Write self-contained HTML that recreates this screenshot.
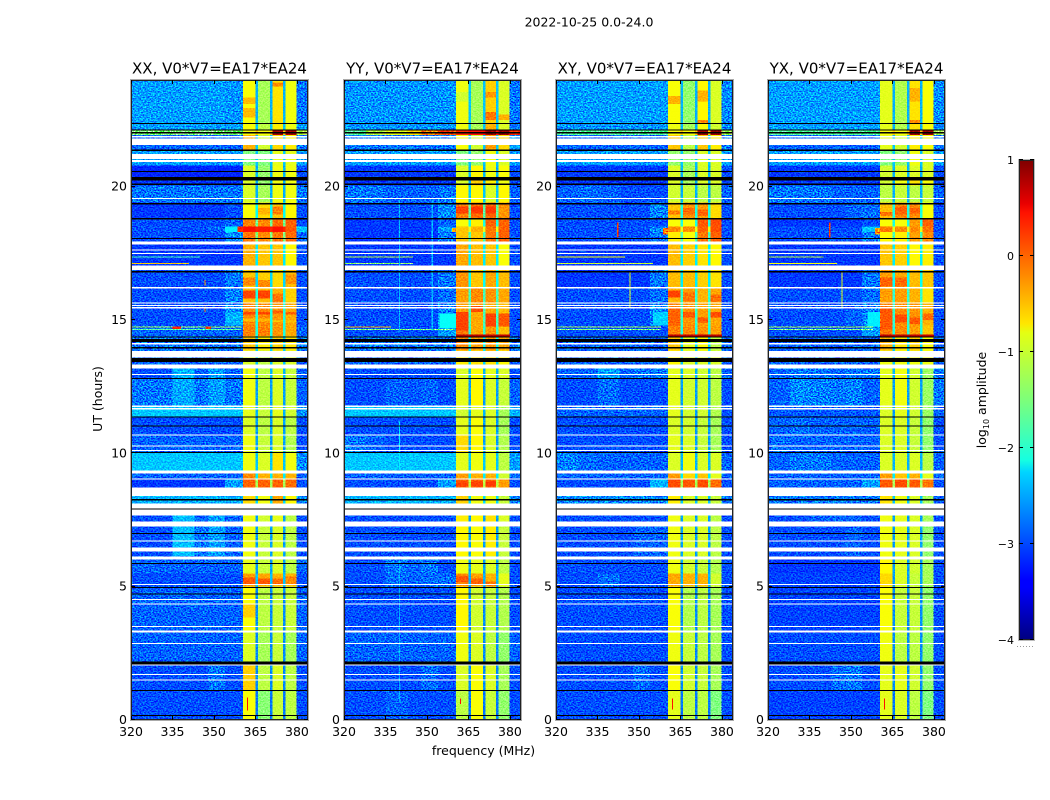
<!DOCTYPE html>
<html>
<head>
<meta charset="utf-8">
<title>2022-10-25 0.0-24.0</title>
<style>
html,body{margin:0;padding:0;background:#fff;width:1050px;height:800px;overflow:hidden}
svg{display:block}
text{font-family:"DejaVu Sans","Liberation Sans",sans-serif;fill:#000}
.tick{font-size:12.5px}
.cbtick{font-size:11px}
.axt{font-size:15px}
</style>
</head>
<body>
<svg id="figure" xmlns="http://www.w3.org/2000/svg" width="1050" height="800" viewBox="0 0 1050 800">
<defs>
<filter id="speckle" x="0" y="0" width="100%" height="100%" color-interpolation-filters="sRGB">
<feTurbulence type="fractalNoise" baseFrequency="0.6 0.8" numOctaves="1" seed="7"/>
<feColorMatrix type="matrix" values="0 0 0 0 0  1 0 0 0 0  0 0 0 0 0  0 0 0 0 1"/>
<feColorMatrix type="matrix" values="0 1 0 0 0  0 1 0 0 0  0 1 0 0 0  0 0 0 0 1"/>
<feComponentTransfer><feFuncR type="linear" slope="2.8" intercept="-0.9"/><feFuncG type="linear" slope="2.8" intercept="-0.9"/><feFuncB type="linear" slope="2.8" intercept="-0.9"/></feComponentTransfer>
</filter>
<linearGradient id="jet-gradient" x1="0" y1="1" x2="0" y2="0">
<stop offset="0" stop-color="#00007f"/><stop offset="0.11" stop-color="#0000ff"/><stop offset="0.125" stop-color="#0000ff"/>
<stop offset="0.35" stop-color="#00d5ff"/><stop offset="0.375" stop-color="#16ffe1"/><stop offset="0.5" stop-color="#7dff7a"/>
<stop offset="0.64" stop-color="#e4ff13"/><stop offset="0.66" stop-color="#ffe600"/><stop offset="0.89" stop-color="#ff1200"/>
<stop offset="0.91" stop-color="#e80000"/><stop offset="1" stop-color="#7f0000"/>
</linearGradient>
</defs>
<text x="589" y="26.5" text-anchor="middle" style="font-size:12.5px">2022-10-25 0.0-24.0</text>
<text x="483.5" y="755" text-anchor="middle" style="font-size:12.5px">frequency (MHz)</text>
<text transform="translate(102,399) rotate(-90)" text-anchor="middle" style="font-size:12.5px">UT (hours)</text>
<g id="panels"></g>
<g id="colorbar"></g>
</svg>
<script>
// ---- data (hours UT, MHz, log10 amplitude) ----
const panelTitles = ['XX, V0*V7=EA17*EA24','YY, V0*V7=EA17*EA24','XY, V0*V7=EA17*EA24','YX, V0*V7=EA17*EA24'];
const xTicks = [320,335,350,365,380];
const yTicks = [0,5,10,15,20];
const cbTicks = [1,0,-1,-2,-3,-4];
const freqEdges = [320,328,335,343,348,354,360.5,365,366,370.3,371.1,374.9,375.8,379.8,384];
const rowEdges = [24,22.35,22.1,21.93,21.37,20.8,20.3,20.05,19.4,18.8,18.5,18.3,17.85,17.05,16.2,15.65,14.8,14.4,13.85,13.3,12.8,11.8,11.35,10.7,10.05,9.3,9.05,8.7,7.9,7.25,6.15,5.5,5.0,3.35,2.2,1.1,0];
// columns: 320-328, 328-335, 335-343, 343-348, 348-354, 354-360.5, sub1, sub2, sub3, sub4, notch, 380-384
const xxValues = [
[-2.6,-2.6,-2.6,-2.6,-2.6,-2.65,-.9,-1.3,-.75,-.95,-2.5,-2.8],
[-2.6,-2.6,-2.6,-2.6,-2.6,-2.6,-.9,-1.2,-.8,-.95,-2.4,-2.6],
[-1.5,-1.5,-1.5,-1.5,-1.5,-1.5,-.9,-.9,.8,.8,-.6,-1.2],
[-2.9,-2.9,-2.9,-2.9,-2.9,-2.9,-.5,-1.1,-.7,-.8,-2.4,-2.8],
[-2.6,-2.6,-2.6,-2.6,-2.6,-2.6,-1.5,-1.5,-1,-1,-2.4,-2.6],
[-3.2,-3.2,-3.2,-3.2,-3.2,-3.2,-1.05,-1.4,-.95,-.95,-2.5,-3],
[-3.1,-3.1,-3.1,-3.1,-3.1,-3.1,-1.05,-1.4,-.95,-.95,-2.5,-3],
[-2.8,-2.8,-2.8,-2.8,-2.8,-2.8,-1.05,-1.3,-.95,-.95,-2.5,-2.8],
[-3.1,-3.1,-3.1,-3.1,-3.1,-3,-.9,-.7,-.6,-.85,-2.1,-3],
[-3,-3,-3,-3,-3,-2.9,-.25,-.3,-.15,-.1,-1.6,-3],
[-3,-3,-3,-3,-2.9,-2.2,.3,.25,.3,-.05,.2,-2.4],
[-3,-3,-3,-3,-3,-2.7,-.2,-.3,-.2,-.15,-1.5,-2.9],
[-3.1,-3.1,-3.1,-3.1,-3.1,-3.1,-.5,-.6,-.6,-.85,-2.2,-3],
[-3,-3,-3,-3,-3,-2.8,-.6,-.65,-.7,-.55,-2.3,-3],
[-3,-3,-3,-3,-3,-2.75,-.55,-.55,-.5,-.65,-2,-3],
[-3,-3,-3,-3,-3,-2.75,-.3,-.3,-.35,-.45,-2,-3],
[-2.9,-2.9,-2.9,-2.9,-2.9,-2.9,-.25,-.25,-.35,-.45,-2,-2.9],
[-2.8,-2.8,-2.8,-2.8,-2.8,-2.8,-.6,-.8,-.65,-.75,-2.3,-2.8],
[-2.9,-2.9,-2.9,-2.9,-2.9,-2.9,-1.05,-1.2,-1.05,-1.05,-2.4,-2.9],
[-3,-3,-2.5,-2.9,-2.6,-2.9,-.95,-1.2,-1.05,-1.15,-2.5,-2.9],
[-2.8,-2.8,-2.55,-2.8,-2.6,-2.8,-.95,-1.2,-1.05,-1.15,-2.6,-2.9],
[-2.4,-2.4,-2.4,-2.4,-2.4,-2.4,-1,-1.15,-1,-1.1,-2.5,-2.7],
[-3,-3,-3,-3,-3,-3,-1.05,-1.2,-1.05,-1.2,-2.6,-3],
[-2.9,-2.9,-2.9,-2.9,-2.9,-2.9,-.95,-1.15,-1.05,-1.25,-2.6,-3],
[-2.4,-2.4,-2.4,-2.4,-2.4,-2.4,-.95,-1.05,-.75,-.95,-2.4,-2.7],
[-2.9,-2.9,-2.9,-2.9,-2.9,-2.9,-.3,-.5,-.5,-.5,-2.2,-2.9],
[-3.1,-3.1,-3.1,-3.1,-3.1,-2.6,-.1,-.1,-.1,-.15,-1.3,-3],
[-2.5,-2.5,-2.5,-2.5,-2.5,-2.5,-.7,-.95,-.45,-.85,-2.3,-2.7],
[-3,-3,-2.45,-2.9,-2.6,-2.9,-.95,-1.1,-1,-1.2,-2.6,-3],
[-3,-3,-2.45,-2.8,-2.6,-2.9,-.95,-1.15,-1.05,-1.2,-2.6,-3],
[-2.9,-2.9,-2.9,-2.9,-2.9,-2.9,-1,-1.15,-1.05,-1.2,-2.6,-2.9],
[-3,-3,-3,-3,-3,-3,-.4,-.45,-.5,-.5,-2.4,-3],
[-2.9,-2.9,-2.9,-2.9,-2.9,-2.9,-.9,-1.2,-1.15,-1.15,-2.7,-2.9],
[-2.9,-2.9,-2.9,-2.9,-2.9,-2.9,-1.05,-1.3,-1.15,-1.3,-2.7,-2.9],
[-3,-3,-3,-3,-2.8,-3,-.65,-1.2,-1.05,-1.2,-2.7,-3],
[-3,-3,-3,-3,-3,-3,-.9,-1.45,-1.15,-1.2,-2.8,-3]
];
const yyValues = [
[-2.65,-2.65,-2.65,-2.65,-2.65,-2.65,-.95,-1.3,-.65,-1.05,-2.4,-2.8],
[-2.65,-2.65,-2.65,-2.65,-2.65,-2.65,-.95,-1.3,-.5,-1.05,-2.4,-2.8],
[-1.7,-1.2,-1,-.7,-.3,0,.2,.3,.85,.85,.3,.2],
[-2.8,-2.8,-2.8,-2.8,-2.8,-2.8,-.9,-1.1,-.4,-.7,-2.4,-2.6],
[-2.6,-2.6,-2.6,-2.6,-2.6,-2.6,-1.5,-1.4,-.95,-1.05,-2.4,-2.6],
[-3.1,-3.1,-3.1,-3.1,-3.1,-3.1,-1.05,-.85,-.95,-.9,-2.5,-3],
[-3.1,-3.1,-3.1,-3.1,-3.1,-3.1,-1.05,-.65,-.8,-.95,-2.5,-3],
[-2.8,-2.8,-2.9,-2.9,-2.9,-2.8,-.85,-.85,-1.05,-.85,-2.4,-2.9],
[-3,-3,-3,-3,-3,-2.7,-.25,-.15,-.1,-.35,-1.7,-3],
[-3.1,-3.1,-3.1,-3.1,-3.1,-2.9,-.9,-.8,-.1,-.1,-2,-3],
[-3.1,-3.1,-3.1,-3.1,-3.1,-2.6,-.6,-.5,-.2,-.1,-1,-3],
[-3.1,-3.1,-3.1,-3.1,-3.1,-2.8,-.6,-.6,-.2,-.1,-1.8,-3],
[-3.1,-3.1,-3.1,-3.1,-3.1,-3.1,-.45,-.55,-.6,-.9,-2.2,-3],
[-3,-3,-3,-3,-3,-2.8,-.35,-.6,-.45,-.55,-2.1,-3],
[-3,-3,-3,-3,-3,-2.85,-.4,-.3,-.35,-.45,-1.8,-3],
[-3,-3,-3,-3,-3,-2.75,-.4,-.45,-.45,-.55,-1.8,-3],
[-3,-3,-3,-3,-3,-2.6,-.2,-.45,-.35,-.55,-1.9,-3],
[-2.8,-2.8,-2.8,-2.8,-2.8,-2.8,-.3,-.4,-.35,-.45,-2.1,-2.8],
[-2.9,-2.9,-2.9,-2.9,-2.9,-2.9,-.8,-.75,-.75,-.85,-2.3,-2.9],
[-3,-3,-3,-3,-3,-3,-1.05,-.9,-1,-1.05,-2.5,-3],
[-3,-3,-2.9,-2.95,-2.9,-3,-1,-.85,-1.05,-1.15,-2.6,-2.9],
[-2.4,-2.4,-2.4,-2.4,-2.4,-2.4,-1.1,-1,-1.05,-1.3,-2.5,-2.5],
[-3,-3,-3,-3,-3,-3,-1,-.9,-1.05,-1.3,-2.6,-3],
[-2.8,-2.9,-3,-3,-3,-3,-.7,-.85,-1.05,-1.25,-2.6,-3],
[-2.4,-2.4,-2.4,-2.4,-2.4,-2.4,-1,-.95,-1,-1.2,-2.4,-2.6],
[-2.9,-2.9,-2.9,-2.9,-2.9,-2.9,-.4,-.5,-.5,-1.1,-2.2,-2.9],
[-3,-3,-3,-3,-3,-2.6,-.1,-.1,-.1,-.4,-1.2,-3],
[-2.5,-2.5,-2.5,-2.5,-2.5,-2.5,-.65,-.95,-.95,-1.15,-2.3,-2.7],
[-3,-3,-3,-3,-3,-3,-.8,-.85,-.75,-1.05,-2.6,-3],
[-3,-3,-3,-3,-3,-3,-.85,-.9,-.8,-1.15,-2.6,-3],
[-3,-3,-2.8,-2.9,-2.8,-3,-.95,-1,-1.05,-1.2,-2.6,-3],
[-3,-3,-2.85,-2.9,-2.85,-2.85,-.3,-.4,-.5,-1,-2.5,-3],
[-3,-3,-3,-3,-3,-3,-.85,-1.1,-1.15,-1.25,-2.7,-3],
[-2.9,-2.9,-2.9,-2.9,-2.9,-2.9,-.95,-1.05,-1.2,-1.4,-2.7,-2.9],
[-3,-3,-3,-3,-2.85,-3,-1.05,-.9,-1.05,-1.3,-2.7,-3],
[-3,-3,-2.9,-3,-3,-3,-1.2,-.9,-1.15,-1.4,-2.8,-3]
];
const xyValues = [
[-2.6,-2.6,-2.6,-2.6,-2.6,-2.6,-.9,-1.4,-.85,-1.05,-2.5,-2.7],
[-2.65,-2.65,-2.65,-2.65,-2.65,-2.65,-.95,-1.3,-.9,-1.1,-2.5,-2.7],
[-1.7,-1.7,-1.7,-1.7,-1.7,-1.7,-.9,-.9,.85,.85,-.6,-1.3],
[-2.9,-2.9,-2.9,-2.9,-2.9,-2.9,-.6,-1.2,-.6,-.8,-2.4,-2.8],
[-2.6,-2.6,-2.6,-2.6,-2.6,-2.6,-1.4,-1.4,-1.05,-1.05,-2.4,-2.6],
[-3.1,-3.1,-3.1,-3.1,-3.1,-3.1,-1.05,-1.3,-1.05,-1.05,-2.5,-3],
[-3.1,-3.1,-3.1,-3.1,-3.1,-3.1,-1.05,-1.3,-1.05,-1.05,-2.5,-3],
[-2.9,-2.85,-2.9,-3,-3,-3,-1.1,-1.15,-1.2,-1.2,-2.5,-2.9],
[-3,-3,-3,-3,-3,-2.75,-.6,-.35,-.4,-.7,-2,-3],
[-3,-3,-3,-3,-3,-3,-.9,-.9,-.05,0,-2,-3],
[-3,-3,-3,-3,-3,-2.7,-.3,-.3,-.1,0,-1,-3],
[-3,-3,-3,-3,-3,-2.8,-.8,-.9,-.2,-.1,-1.8,-3],
[-3.1,-3.1,-3.1,-3.1,-3.1,-3.1,-.55,-.65,-.75,-.85,-2.2,-3],
[-3.1,-3.1,-3.1,-3.1,-3.1,-2.8,-.55,-.55,-.65,-.75,-2.2,-3],
[-3,-3,-3,-3,-3,-2.85,-.5,-.4,-.5,-.45,-1.9,-3],
[-3,-3,-3,-3,-3,-2.75,-.3,-.35,-.4,-.45,-1.9,-3],
[-3,-3,-3,-3,-3,-3,-.25,-.3,-.35,-.4,-2,-3],
[-2.9,-2.9,-2.9,-2.9,-2.9,-2.9,-.6,-1,-.85,-1.2,-2.3,-2.9],
[-2.9,-2.9,-2.9,-2.9,-2.9,-2.9,-.85,-1.05,-1.05,-1.05,-2.4,-2.9],
[-2.9,-2.9,-2.6,-2.9,-2.8,-2.8,-1,-1.05,-1.1,-1.2,-2.5,-2.9],
[-3,-3,-2.85,-3,-3,-3,-1,-1.1,-1.1,-1.2,-2.6,-3],
[-2.9,-2.9,-2.9,-2.9,-2.9,-2.9,-1,-1.1,-1.1,-1.25,-2.6,-3],
[-3,-3,-3,-3,-3,-3,-1.05,-1.1,-1.15,-1.3,-2.6,-3],
[-3,-3,-3,-3,-3,-3,-1,-1.05,-1.15,-1.3,-2.6,-3],
[-2.75,-2.85,-2.9,-2.9,-2.9,-2.9,-1.05,-.95,-1.05,-1.05,-2.5,-2.9],
[-2.9,-2.9,-2.9,-2.9,-2.9,-2.9,-.4,-.7,-.6,-1,-2.2,-2.9],
[-3,-3,-3,-3,-3,-2.5,0,-.05,0,-.15,-1.3,-3],
[-2.7,-2.7,-2.7,-2.7,-2.7,-2.7,-.8,-1.05,-1.05,-1.15,-2.4,-2.8],
[-3,-3,-3,-3,-3,-3,-.95,-1.05,-1.05,-1.2,-2.6,-3],
[-3,-3,-3,-3,-2.9,-2.9,-.95,-1.05,-1.05,-1.2,-2.6,-3],
[-3,-3,-3,-3,-3,-3,-.95,-1.1,-1.15,-1.25,-2.6,-3],
[-3,-3,-2.85,-3,-3,-3,-.45,-.5,-.5,-1.1,-2.5,-3],
[-3,-3,-3,-3,-3,-3,-.9,-1.25,-1.2,-1.3,-2.7,-3],
[-3,-3,-3,-3,-3,-3,-.95,-1.15,-1.2,-1.3,-2.7,-3],
[-3,-3,-3,-3,-2.85,-3,-.9,-1.1,-1.15,-1.3,-2.7,-3],
[-3,-3,-3,-3,-3,-3,-1,-1.2,-1.2,-1.5,-2.8,-3]
];
const yxValues = [
[-2.6,-2.6,-2.6,-2.6,-2.6,-2.6,-1,-1.25,-.75,-.9,-2.5,-2.7],
[-2.6,-2.6,-2.6,-2.6,-2.6,-2.6,-1,-1.25,-.75,-.9,-2.5,-2.7],
[-1.7,-1.7,-1.7,-1.7,-1.7,-1.7,-.9,-.9,.85,.85,-.6,-1.3],
[-2.9,-2.9,-2.9,-2.9,-2.9,-2.9,-1,-1.1,-.8,-.9,-2.4,-2.8],
[-2.6,-2.6,-2.6,-2.6,-2.6,-2.6,-1.5,-1.4,-.95,-1.05,-2.4,-2.6],
[-3.1,-3.1,-3.1,-3.1,-3.1,-3.1,-1.1,-1.05,-1.05,-1.05,-2.5,-3],
[-3.1,-3.1,-3.1,-3.1,-3.1,-3.1,-1.1,-.95,-.75,-.9,-2.5,-3],
[-2.8,-2.8,-2.8,-2.9,-2.9,-2.9,-1.2,-1.15,-1.2,-1.15,-2.5,-2.9],
[-3,-3,-3,-3,-2.9,-2.85,-.55,-.3,-.3,-.9,-2,-3],
[-3.1,-3.1,-3.1,-3.1,-3.1,-3,-.9,-.9,-.4,-.1,-2,-3],
[-3,-3,-3,-3,-3,-2.4,-.2,-.3,-.3,-.2,-1,-3],
[-3,-3,-3,-3,-3,-2.8,-.85,-.8,-.4,-.3,-1.8,-3],
[-3.1,-3.1,-3.1,-3.1,-3.1,-3.1,-.6,-.65,-.85,-.8,-2.2,-3],
[-3.1,-3.1,-3.1,-3.1,-3.1,-2.8,-.4,-.45,-.55,-.6,-2.1,-3],
[-3,-3,-3,-3,-3,-2.85,-.4,-.4,-.5,-.75,-1.9,-3],
[-3,-3,-3,-3,-2.9,-2.75,-.25,-.3,-.35,-.5,-1.9,-3],
[-3,-3,-3,-3,-3,-2.6,-.2,-.3,-.4,-.6,-2,-3],
[-2.9,-2.9,-2.9,-2.9,-2.9,-2.9,-.5,-.75,-.65,-.9,-2.3,-2.9],
[-2.9,-2.9,-2.9,-2.9,-2.9,-2.9,-.95,-.95,-.95,-.95,-2.4,-2.9],
[-2.9,-2.8,-2.8,-2.9,-2.8,-2.8,-1,-.95,-1.1,-1.35,-2.5,-2.8],
[-2.9,-2.7,-2.75,-2.8,-2.75,-2.9,-1,-.95,-1.1,-1.35,-2.6,-2.8],
[-2.95,-2.95,-2.95,-2.95,-2.95,-2.95,-1.05,-1,-1.1,-1.35,-2.6,-2.9],
[-2.9,-2.85,-2.9,-2.9,-2.9,-2.9,-1.05,-1.05,-1.15,-1.4,-2.6,-3],
[-2.85,-2.9,-2.9,-2.9,-2.9,-2.9,-1.05,-1.05,-1.15,-1.4,-2.6,-3],
[-2.9,-2.8,-2.8,-2.9,-2.9,-2.9,-1.05,-1.05,-1.05,-1.2,-2.5,-2.9],
[-2.9,-2.9,-2.9,-2.9,-2.9,-2.9,-.4,-.6,-.5,-1,-2.2,-2.9],
[-2.9,-2.9,-2.9,-2.9,-2.9,-2.6,-.05,0,-.05,-.2,-1.3,-3],
[-2.8,-2.8,-2.8,-2.8,-2.8,-2.8,-.75,-.95,-1.05,-1.3,-2.4,-2.9],
[-3,-3,-2.9,-2.9,-2.9,-3,-.95,-1,-1.05,-1.3,-2.6,-3],
[-3,-3,-3,-3,-2.9,-3,-.95,-1,-1.05,-1.4,-2.6,-3],
[-3.1,-3.1,-3.1,-3.1,-3.1,-3.1,-.85,-1.05,-1.1,-1.3,-2.6,-3],
[-3.05,-3.05,-3.05,-3.05,-3.05,-3.05,-.7,-1.05,-1.15,-1.3,-2.6,-3],
[-3.05,-3.05,-3.05,-3.05,-3.05,-3.05,-.9,-1.15,-1.15,-1.4,-2.7,-3],
[-3,-3,-3,-3,-3,-3,-.95,-1.2,-1.2,-1.4,-2.7,-3],
[-3,-3,-3,-2.85,-2.8,-3,-1,-1,-1.1,-1.4,-2.7,-3],
[-3.05,-3.05,-3.05,-3.05,-3.05,-3.05,-1,-1.05,-1.2,-1.5,-2.8,-3]
];
// localized features: [freq start, freq end, hour top, hour bottom, log10 amplitude]
const xxFeatures = [
[320,360,14.75,14.72,-1.3],[320,360,14.67,14.64,-1.7],[335,338,14.75,14.66,.2],[347,349,14.75,14.66,.1],
[320,345,17.39,17.36,-1.8],[320,341,17.14,17.11,-.6],[346.5,347,16.5,16.3,-.3],[346.5,347,15.5,15.3,-.3],
[354,360.5,15.3,14.8,-2.5],[358.5,360.5,18.5,18.3,.2],[361.9,362.3,.85,.35,.3],
[360.5,365,23.35,23.1,-.55],[360.5,365,22.95,22.6,-.55],[371.1,374.9,23.9,23.75,-.3],
[371.1,374.9,19.25,18.95,-.25],[366,370.3,19.2,18.95,-.5],
[360.5,365,16.6,16.3,-.3],[366,370.3,16.5,16.2,-.3],[375.8,379.8,16.7,16.35,-.35],
[360.5,365,16.1,15.8,.05],[366,370.3,16.1,15.8,.05],[371.1,374.9,16,15.65,-.2],
[360.5,365,15.3,15.2,.05],[366,370.3,15.3,15.2,.05],[371.1,374.9,15.35,15.25,-.1],[375.8,379.8,15.3,15.2,-.1],
[360.5,365,15.05,14.95,-.55],[366,370.3,15.05,14.95,-.5],[371.1,374.9,15,14.9,-.55],[375.8,379.8,15,14.9,-.55],
[360.5,365,4.35,3.85,-.65],[360.5,365,5.35,5.1,-.05],[366,370.3,5.3,5.1,-.05],[371.1,374.9,5.3,5.1,-.15],[375.8,379.8,5.4,5.1,-.3]
];
const yyFeatures = [
[320,337,14.75,14.72,-.5],[320,360,14.67,14.64,-1.5],[320,345,17.39,17.36,-1.2],[320,345,17.14,17.11,-1.4],
[359,360.5,18.45,18.3,-.4],[360.5,380,14.45,14.38,.7],[339.8,340.3,19.5,14.6,-2.45],[351.6,352.1,19.5,14.6,-2.45],
[339.8,340.3,6,.7,-2.5],[339.8,340.3,11.2,9.4,-2.2],[361.9,362.3,.8,.6,.3],[354.6,360.5,15.25,14.7,-2.1],
[371.1,374.9,23.55,23.35,-.35],[371.1,374.9,22.8,22.5,-.2],[375.8,379.8,22.7,22.5,-.5],[360.5,365,23.55,23.2,-1.1],
[360.5,365,15.3,14.6,.05],[366,370.3,15.55,15.3,0],[371.1,374.9,15.25,14.75,.05],[375.8,379.8,15.25,14.75,-.05],
[360.5,365,19.25,19,.05],[366,370.3,19.25,19,.1],[371.1,374.9,19.25,19,.1],
[360.5,365,8.95,8.75,.05],[366,370.3,8.95,8.75,.05],[371.1,374.9,8.95,8.75,.1],
[360.5,365,5.4,5.15,-.05],[366,370.3,5.3,5.1,-.1],[371.1,374.9,5.2,5,-.2]
];
const xyFeatures = [
[320,358,14.75,14.72,-1.3],[320,358,14.67,14.64,-1.5],[320,345,17.39,17.36,-.9],[320,355,17.14,17.11,-1.1],
[358.7,360.5,18.45,18.2,-.2],[360.5,380,14.45,14.38,.7],[342.1,342.6,18.65,18.1,.1],[346.5,347,16.8,15.45,-1],
[361.9,362.3,.8,.4,.3],[355,360.5,15.3,14.8,-2.35],
[360.5,365,23.4,23.1,-.5],[371.1,374.9,23.6,23.2,-.5],[371.1,374.9,22.5,22.35,-.3],
[360.5,365,16.1,15.85,.05],[366,370.3,16.05,15.7,-.2],[375.8,379.8,15.95,15.7,-.15],
[360.5,365,15.45,14.8,-.1],[366,370.3,15.3,15.1,-.05],[371.1,374.9,15.1,14.9,-.05],[375.8,379.8,15.3,15.1,0],
[366,370.3,19.2,18.95,-.15],[371.1,374.9,19.15,18.9,-.1],[360.5,365,19.1,18.95,-.25]
];
const yxFeatures = [
[320,358,14.75,14.72,-1.3],[320,358,14.67,14.64,-1.5],[320,340,17.39,17.36,-1.2],[320,345,17.14,17.11,-.9],
[358.7,360.5,18.45,18.2,-.3],[360.5,380,14.45,14.38,.7],[342.1,342.6,18.65,18.1,.1],[346.5,347,16.8,15.45,-1],
[361.9,362.3,.8,.4,.3],[356,360.5,15.3,14.75,-2.2],
[371.1,374.9,23.7,23.2,-.5],[371.1,374.9,22.5,22.35,-.3],
[360.5,365,15.45,14.65,-.05],[366,370.3,15.2,14.9,0],[371.1,374.9,15.1,14.85,-.05],[375.8,379.8,15.25,15,-.15],
[360.5,365,16.6,16.25,-.1],[366,370.3,16.6,16.25,-.15],
[366,370.3,19.25,18.95,-.1],[371.1,374.9,19.2,19,-.1],[360.5,365,19.05,18.9,-.2]
];
// flagged white gaps [hour top, hour bottom]
const whiteGaps = [[21.9,21.85],[21.8,21.56],[21.22,21.03],[21,20.92],[19.57,19.53],[17.95,17.84],[17.65,17.62],[17.52,17.49],[17.05,16.87],[16.23,16.19],[15.66,15.63],[15.57,15.52],[15.48,15.44],[14.13,14.09],[13.83,13.6],[13.34,13.19],[12.98,12.95],[11.8,11.74],[11.7,11.65],[10.71,10.68],[10.3,10.26],[10.13,10.09],[9.36,9.25],[9.06,9.03],[8.72,8.4],[8.12,7.94],[7.9,7.67],[7.45,7.26],[6.73,6.7],[6.47,6.32],[6.13,6.02],[5.1,5.07],[4.54,4.5],[4.37,4.33],[3.53,3.49],[3.36,3.28],[2.89,2.85],[2.08,2.05],[1.73,1.69],[1.52,1.48]];
// black lines [hour top, hour bottom]
const blackLines = [[22.39,22.35],[22.14,22.11],[22.05,22],[21.39,21.33],[20.58,20.55],[20.36,20.24],[20.11,20.06],[19.38,19.33],[18.82,18.77],[18.07,18.03],[16.83,16.79],[14.39,14.35],[14.28,14.17],[13.98,13.94],[13.58,13.43],[12.83,12.79],[11.38,11.34],[11.05,11.01],[10.05,10.01],[8.28,8.24],[7.94,7.9],[7.01,6.97],[5.89,5.85],[4.99,4.95],[4.75,4.71],[2.2,2.08],[1.13,1.09],[.19,.15]];

// ---- axes ----
const panelLeft = [131,344,556,768];
const panelWidth = 177, panelTop = 80, panelBottom = 720;
const panelValues = [xxValues,yyValues,xyValues,yxValues];
const panelFeatures = [xxFeatures,yyFeatures,xyFeatures,yxFeatures];
const panelKeys = ['xx','yy','xy','yx'];
const xMin = 320, xMax = 384, yMin = 0, yMax = 24, cMin = -4, cMax = 1;
const cbX = 1019, cbW = 15, cbTop = 160, cbBottom = 640;
const NS = 'http://www.w3.org/2000/svg';
function xScale(p, f){ return panelLeft[p] + (f - xMin) / (xMax - xMin) * panelWidth; }
function yScale(h){ return panelBottom - (h - yMin) / (yMax - yMin) * (panelBottom - panelTop); }
function cScale(v){ return cbBottom - (v - cMin) / (cMax - cMin) * (cbBottom - cbTop); }
function clamp01(x){ return Math.max(0, Math.min(1, x)); }
function jet(v){
  const t = clamp01((v - cMin) / (cMax - cMin));
  const r = clamp01(1.5 - Math.abs(4 * t - 3));
  const g = clamp01(1.5 - Math.abs(4 * t - 2));
  const b = clamp01(1.5 - Math.abs(4 * t - 1));
  return 'rgb(' + Math.round(r * 255) + ',' + Math.round(g * 255) + ',' + Math.round(b * 255) + ')';
}
function make(tag, attrs, parent){
  const el = document.createElementNS(NS, tag);
  for (const k in attrs) el.setAttribute(k, attrs[k]);
  parent.appendChild(el);
  return el;
}
// maps a frequency zone (index into freqEdges) to a value column
const zoneColumn = [0,1,2,3,4,5,6,10,7,10,8,10,9,11];
const panelsGroup = document.getElementById('panels');
panelValues.forEach(function(values, p){
  const g = make('g', {}, panelsGroup);
  
  
  const title = make('text', {x: panelLeft[p] + panelWidth / 2, y: 73.5, 'text-anchor': 'middle', class: 'axt'}, g);
  
  
  title.textContent = panelTitles[p];
  const cells = make('g', {'shape-rendering': 'crispEdges'}, g);
  
  
  values.forEach(function(row, r){
    for (let z = 0; z < zoneColumn.length; z++){
      const x0 = xScale(p, freqEdges[z]), x1 = xScale(p, freqEdges[z + 1]);
      const y0 = yScale(rowEdges[r]), y1 = yScale(rowEdges[r + 1]);
      const cell = make('rect', {x: x0, y: y0, width: x1 - x0 + 0.5, height: y1 - y0 + 0.5, fill: jet(row[zoneColumn[z]])}, cells);
      
      
    }
  });
  const marks = make('g', {'shape-rendering': 'crispEdges'}, g);
  
  
  panelFeatures[p].forEach(function(ft){
    const x0 = xScale(p, ft[0]), x1 = xScale(p, ft[1]);
    const y0 = yScale(ft[2]), y1 = yScale(ft[3]);
    const mark = make('rect', {x: x0, y: y0, width: Math.max(1, x1 - x0), height: Math.max(1, y1 - y0), fill: jet(ft[4])}, marks);
    
    
  });
  const texLow = make('rect', {x: xScale(p, 320), y: panelTop, width: xScale(p, 360.5) - xScale(p, 320), height: panelBottom - panelTop, filter: 'url(#speckle)', style: 'mix-blend-mode:overlay'}, g);
  
  
  const texHigh = make('rect', {x: xScale(p, 379.8), y: panelTop, width: xScale(p, 384) - xScale(p, 379.8), height: panelBottom - panelTop, filter: 'url(#speckle)', style: 'mix-blend-mode:overlay'}, g);
  
  
  const texBand = make('rect', {x: xScale(p, 360.5), y: panelTop, width: xScale(p, 379.8) - xScale(p, 360.5), height: panelBottom - panelTop, filter: 'url(#speckle)', opacity: 0.35, style: 'mix-blend-mode:overlay'}, g);
  
  
  const flags = make('g', {'shape-rendering': 'crispEdges'}, g);
  
  
  whiteGaps.forEach(function(b){
    const gap = make('rect', {x: panelLeft[p], y: yScale(b[0]), width: panelWidth, height: Math.max(1, yScale(b[1]) - yScale(b[0])), fill: '#fff'}, flags);
    
    
  });
  blackLines.forEach(function(b){
    const line = make('rect', {x: panelLeft[p], y: yScale(b[0]), width: panelWidth, height: Math.max(1, yScale(b[1]) - yScale(b[0])), fill: '#000'}, flags);
    
    
  });
  const outer = make('rect', {x: panelLeft[p] - 0.5, y: panelTop - 0.5, width: panelWidth + 1, height: panelBottom - panelTop + 1, fill: 'none', stroke: '#aaa', 'stroke-width': 1}, g);
  
  
  const frame = make('rect', {x: panelLeft[p] + 0.5, y: panelTop + 0.5, width: panelWidth - 1, height: panelBottom - panelTop - 1, fill: 'none', stroke: '#222', 'stroke-width': 1}, g);
  
  
  xTicks.forEach(function(t){
    const x = Math.round(xScale(p, t)) + 0.5;
    const tb = make('line', {x1: x, x2: x, y1: panelBottom, y2: panelBottom - 4, stroke: '#000'}, g);
    
    
    const tt = make('line', {x1: x, x2: x, y1: panelTop, y2: panelTop + 4, stroke: '#000'}, g);
    
    
    const lab = make('text', {x: xScale(p, t), y: 736, 'text-anchor': 'middle', class: 'tick'}, g);
    
    
    lab.textContent = t;
  });
  yTicks.forEach(function(t){
    const y = Math.round(yScale(t)) - 0.5;
    const tl = make('line', {x1: panelLeft[p], x2: panelLeft[p] + 4, y1: y, y2: y, stroke: '#000'}, g);
    
    
    const tr = make('line', {x1: panelLeft[p] + panelWidth, x2: panelLeft[p] + panelWidth - 4, y1: y, y2: y, stroke: '#000'}, g);
    
    
    const lab = make('text', {x: panelLeft[p] - 4, y: yScale(t) + 4, 'text-anchor': 'end', class: 'tick'}, g);
    
    
    lab.textContent = t;
  });
});
// colorbar
const cb = document.getElementById('colorbar');
const cbRamp = make('rect', {x: cbX, y: cbTop, width: cbW, height: cbBottom - cbTop, fill: 'url(#jet-gradient)'}, cb);


const cbOuter = make('rect', {x: cbX - 0.5, y: cbTop - 0.5, width: cbW + 1, height: cbBottom - cbTop + 1, fill: 'none', stroke: '#bbb'}, cb);


const cbFrame = make('rect', {x: cbX + 0.5, y: cbTop + 0.5, width: cbW - 1, height: cbBottom - cbTop - 1, fill: 'none', stroke: '#222'}, cb);


cbTicks.forEach(function(t){
  const y = Math.round(cScale(t)) - 0.5;
  const tl = make('line', {x1: cbX, x2: cbX + 4, y1: y, y2: y, stroke: '#000'}, cb);
  
  
  const tr = make('line', {x1: cbX + cbW, x2: cbX + cbW - 4, y1: y, y2: y, stroke: '#000'}, cb);
  
  
  const lab = make('text', {x: cbX - 5, y: cScale(t) + 4, 'text-anchor': 'end', class: 'cbtick'}, cb);
  
  
  lab.textContent = String(t).replace('-', '\u2212');
});
const cbDots = make('line', {x1: cbX - 2, x2: cbX + cbW + 1, y1: 646.5, y2: 646.5, stroke: '#999', 'stroke-dasharray': '1 2'}, cb);


const cbTitle = make('text', {transform: 'translate(986,400) rotate(-90)', 'text-anchor': 'middle', style: 'font-size:12.5px'}, cb);


const t1 = make('tspan', {}, cbTitle); t1.textContent = 'log';
const t2 = make('tspan', {dy: 3, style: 'font-size:8px'}, cbTitle); t2.textContent = '10';
const t3 = make('tspan', {dy: -3}, cbTitle); t3.textContent = ' amplitude';
</script>
</body>
</html>
